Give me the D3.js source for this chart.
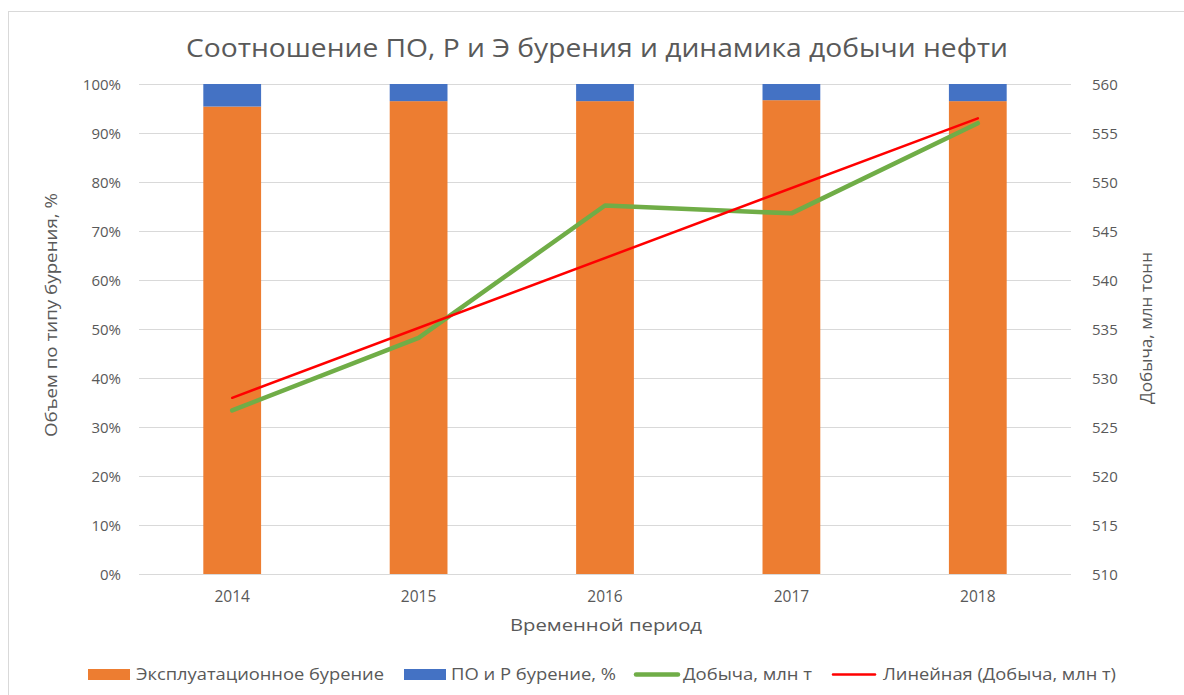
<!DOCTYPE html>
<html>
<head>
<meta charset="utf-8">
<script src="https://cdn.jsdelivr.net/npm/d3@7"></script>
<style>
  body { margin: 0; background: #fff; }
  text { font-family: "Open Sans", sans-serif; fill: #595959; }
</style>
</head>
<body>
<svg id="chart"></svg>
<script>
var width = 1184, height = 695;

// data
var years = ["2014", "2015", "2016", "2017", "2018"];
var exploitation = [95.4, 96.5, 96.5, 96.7, 96.5];   // % эксплуатационное бурение
var exploration = [4.6, 3.5, 3.5, 3.3, 3.5];          // % ПО и Р бурение
var production = [526.7, 534.1, 547.6, 546.8, 556.0]; // млн т
var pctTicks = [0, 10, 20, 30, 40, 50, 60, 70, 80, 90, 100];
var prodTicks = [510, 515, 520, 525, 530, 535, 540, 545, 550, 555, 560];

var plot = {left: 139, right: 1071, top: 84, bottom: 574};

var svg = d3.select("#chart")
    .attr("width", width)
    .attr("height", height);

// chart frame
svg.append("rect")
    .attr("x", 8.5).attr("y", 11.5)
    .attr("width", 1200).attr("height", 700)
    .attr("fill", "#fff")
    .attr("stroke", "#d9d9d9");

var x = d3.scaleBand()
    .domain(years)
    .range([plot.left, plot.right])
    .paddingInner(0.69)
    .paddingOuter(0.345);

var yPct = d3.scaleLinear().domain([0, 100]).range([plot.bottom, plot.top]);
var yProd = d3.scaleLinear().domain([510, 560]).range([plot.bottom, plot.top]);

// gridlines
svg.append("g")
    .selectAll("line")
    .data(pctTicks)
    .enter().append("line")
    .attr("x1", plot.left).attr("x2", plot.right)
    .attr("y1", function(d) { return Math.round(yPct(d)) + 0.5; })
    .attr("y2", function(d) { return Math.round(yPct(d)) + 0.5; })
    .attr("stroke", "#d9d9d9")
    .attr("stroke-width", 1);

// stacked bars
var bars = svg.append("g");
bars.selectAll("rect.expl")
    .data(years)
    .enter().append("rect")
    .attr("class", "expl")
    .attr("x", function(d) { return x(d); })
    .attr("width", x.bandwidth())
    .attr("y", function(d, i) { return yPct(exploitation[i]); })
    .attr("height", function(d, i) { return yPct(0) - yPct(exploitation[i]); })
    .attr("fill", "#ed7d31");
bars.selectAll("rect.po")
    .data(years)
    .enter().append("rect")
    .attr("class", "po")
    .attr("x", function(d) { return x(d); })
    .attr("width", x.bandwidth())
    .attr("y", function(d, i) { return yPct(exploitation[i] + exploration[i]); })
    .attr("height", function(d, i) { return yPct(exploitation[i]) - yPct(exploitation[i] + exploration[i]); })
    .attr("fill", "#4472c4");

// production line
var cx = function(d, i) { return x(years[i]) + x.bandwidth() / 2; };
var line = d3.line()
    .x(cx)
    .y(function(d) { return yProd(d); });

svg.append("path")
    .datum(production)
    .attr("d", line)
    .attr("fill", "none")
    .attr("stroke", "#70ad47")
    .attr("stroke-width", 4.5)
    .attr("stroke-linejoin", "round")
    .attr("stroke-linecap", "round");

// linear trend (least squares, like Excel's trendline)
var n = production.length;
var mx = d3.mean(production, function(d, i) { return i; });
var my = d3.mean(production);
var slope = d3.sum(production, function(d, i) { return (i - mx) * (d - my); }) /
            d3.sum(production, function(d, i) { return (i - mx) * (i - mx); });
var trend = production.map(function(d, i) { return my + slope * (i - mx); });

svg.append("path")
    .datum([trend[0], trend[n - 1]])
    .attr("d", d3.line()
        .x(function(d, i) { return i === 0 ? cx(null, 0) : cx(null, n - 1); })
        .y(function(d) { return yProd(d); }))
    .attr("fill", "none")
    .attr("stroke", "#ff0000")
    .attr("stroke-width", 2.5)
    .attr("stroke-linecap", "round");

// left axis labels
svg.append("g")
    .selectAll("text")
    .data(pctTicks)
    .enter().append("text")
    .attr("x", 121)
    .attr("y", function(d) { return yPct(d) + 5.5; })
    .attr("text-anchor", "end")
    .attr("font-size", 15)
    .text(function(d) { return d + "%"; });

// right axis labels
svg.append("g")
    .selectAll("text")
    .data(prodTicks)
    .enter().append("text")
    .attr("x", 1092)
    .attr("y", function(d) { return yProd(d) + 5.5; })
    .attr("font-size", 15)
    .text(function(d) { return d; });

// x labels
svg.append("g")
    .selectAll("text")
    .data(years)
    .enter().append("text")
    .attr("x", function(d) { return x(d) + x.bandwidth() / 2; })
    .attr("y", 602)
    .attr("text-anchor", "middle")
    .attr("font-size", 15.5)
    .text(function(d) { return d; });

// titles
svg.append("text")
    .attr("x", 597).attr("y", 57)
    .attr("text-anchor", "middle")
    .attr("font-size", 25)
    .attr("textLength", 822)
    .attr("lengthAdjust", "spacingAndGlyphs")
    .text("Соотношение ПО, Р и Э бурения и динамика добычи нефти");

svg.append("text")
    .attr("x", 606).attr("y", 631)
    .attr("text-anchor", "middle")
    .attr("font-size", 17)
    .attr("textLength", 192)
    .attr("lengthAdjust", "spacingAndGlyphs")
    .text("Временной период");

svg.append("text")
    .attr("transform", "translate(57,315) rotate(-90)")
    .attr("text-anchor", "middle")
    .attr("font-size", 17)
    .attr("textLength", 244)
    .attr("lengthAdjust", "spacingAndGlyphs")
    .text("Объем по типу бурения, %");

svg.append("text")
    .attr("transform", "translate(1152,328) rotate(-90)")
    .attr("text-anchor", "middle")
    .attr("font-size", 17)
    .attr("textLength", 152)
    .attr("lengthAdjust", "spacingAndGlyphs")
    .text("Добыча, млн тонн");

// legend
var legendItems = [
    {name: "Эксплуатационное бурение", color: "#ed7d31", type: "rect", x: 88, tx: 136, tw: 248},
    {name: "ПО и Р бурение, %", color: "#4472c4", type: "rect", x: 404, tx: 451, tw: 165},
    {name: "Добыча, млн т", color: "#70ad47", type: "line", x: 634, tx: 683, tw: 129, sw: 4.5},
    {name: "Линейная (Добыча, млн т)", color: "#ff0000", type: "line", x: 831, tx: 883, tw: 233, sw: 2.5}
];
var legend = svg.append("g");
legendItems.forEach(function(d) {
    if (d.type === "rect") {
        legend.append("rect")
            .attr("x", d.x).attr("y", 669)
            .attr("width", 42).attr("height", 11)
            .attr("fill", d.color);
    } else {
        legend.append("line")
            .attr("x1", d.x + 2).attr("x2", d.x + 44)
            .attr("y1", 674.5).attr("y2", 674.5)
            .attr("stroke", d.color)
            .attr("stroke-width", d.sw)
            .attr("stroke-linecap", "round");
    }
    legend.append("text")
        .attr("x", d.tx).attr("y", 680)
        .attr("font-size", 16)
        .attr("textLength", d.tw)
        .attr("lengthAdjust", "spacingAndGlyphs")
        .text(d.name);
});
</script>
</body>
</html>
